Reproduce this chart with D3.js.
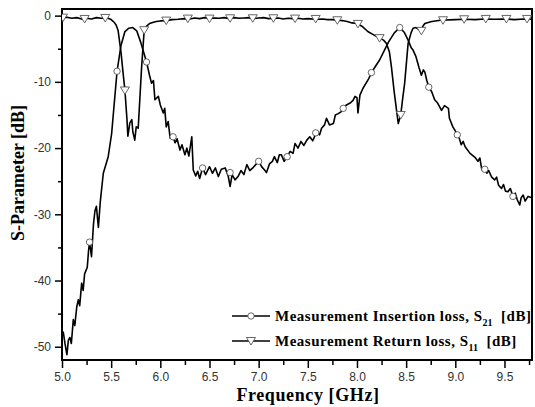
<!DOCTYPE html>
<html>
<head>
<meta charset="utf-8">
<script src="https://cdn.jsdelivr.net/npm/d3@7"></script>
<style>
  body { margin: 0; background: #fff; }
  svg { display: block; }
</style>
</head>
<body>
<script>
// S21 (insertion loss) trace, [GHz, dB]
const s21 = [[5.00,-48.4],[5.013,-47.8],[5.03,-49.5],[5.05,-51.2],[5.065,-49.0],[5.08,-48.6],[5.095,-49.5],[5.115,-45.9],[5.13,-46.8],[5.15,-44.0],[5.166,-42.9],[5.18,-43.8],[5.2,-40.4],[5.215,-41.5],[5.23,-39.0],[5.257,-38.0],[5.27,-35.5],[5.28,-34.2],[5.30,-36.4],[5.32,-31.5],[5.335,-29.5],[5.35,-28.8],[5.37,-32.0],[5.39,-28.0],[5.42,-23.8],[5.47,-21.3],[5.505,-17.8],[5.53,-13.5],[5.56,-8.4],[5.6,-4.5],[5.64,-2.4],[5.68,-1.9],[5.72,-1.8],[5.76,-2.3],[5.8,-4.0],[5.86,-7.0],[5.89,-9.0],[5.91,-10.2],[5.93,-9.8],[5.945,-12.7],[5.98,-12.2],[6.0,-13.5],[6.03,-14.7],[6.045,-14.0],[6.06,-16.8],[6.08,-16.0],[6.1,-18.5],[6.13,-18.3],[6.15,-19.2],[6.17,-18.6],[6.2,-20.3],[6.22,-19.5],[6.25,-21.0],[6.27,-20.0],[6.29,-21.2],[6.32,-18.3],[6.335,-23.3],[6.36,-24.2],[6.38,-23.5],[6.40,-24.6],[6.43,-23.0],[6.46,-24.0],[6.50,-22.8],[6.53,-23.8],[6.56,-23.0],[6.59,-24.3],[6.62,-23.2],[6.66,-23.0],[6.69,-24.2],[6.71,-25.8],[6.73,-24.0],[6.76,-24.8],[6.79,-24.3],[6.82,-23.4],[6.85,-24.0],[6.88,-22.5],[6.91,-23.4],[6.94,-23.0],[6.97,-22.5],[7.0,-22.0],[7.03,-22.8],[7.06,-23.3],[7.08,-23.7],[7.11,-22.4],[7.14,-22.0],[7.16,-21.3],[7.19,-22.2],[7.21,-21.0],[7.23,-21.0],[7.26,-22.0],[7.29,-21.3],[7.32,-20.5],[7.35,-20.8],[7.37,-19.3],[7.40,-20.0],[7.43,-19.0],[7.46,-19.6],[7.49,-18.8],[7.52,-18.3],[7.55,-18.9],[7.59,-17.6],[7.62,-18.0],[7.64,-17.0],[7.67,-16.5],[7.69,-15.5],[7.72,-16.5],[7.76,-16.3],[7.78,-15.0],[7.81,-14.8],[7.84,-14.5],[7.86,-14.0],[7.88,-13.6],[7.93,-13.2],[7.96,-12.8],[7.98,-12.2],[8.0,-12.4],[8.01,-14.7],[8.03,-12.0],[8.06,-11.0],[8.08,-10.5],[8.12,-9.5],[8.147,-8.6],[8.19,-7.6],[8.23,-6.7],[8.28,-5.2],[8.32,-4.0],[8.38,-2.6],[8.435,-1.8],[8.48,-2.5],[8.52,-3.7],[8.55,-4.8],[8.57,-5.2],[8.6,-6.2],[8.63,-7.8],[8.655,-9.0],[8.675,-8.2],[8.69,-8.5],[8.71,-9.8],[8.73,-10.8],[8.76,-11.5],[8.79,-12.7],[8.82,-13.2],[8.86,-14.3],[8.89,-13.6],[8.93,-14.0],[8.94,-15.5],[8.975,-16.8],[9.0,-17.4],[9.02,-18.0],[9.04,-18.5],[9.06,-19.5],[9.08,-19.0],[9.1,-19.8],[9.15,-20.8],[9.2,-21.4],[9.23,-22.0],[9.25,-21.5],[9.27,-23.3],[9.30,-23.2],[9.32,-23.8],[9.34,-23.4],[9.37,-24.4],[9.4,-24.8],[9.42,-24.4],[9.44,-25.6],[9.47,-26.1],[9.49,-25.5],[9.51,-26.5],[9.535,-26.6],[9.56,-26.1],[9.586,-27.3],[9.61,-26.8],[9.63,-27.8],[9.655,-28.6],[9.67,-27.5],[9.69,-27.1],[9.71,-28.0],[9.74,-27.3],[9.78,-27.5]];

// S11 (return loss) trace
const s11 = [[5.0,-0.3],[5.05,-0.25],[5.1,-0.4],[5.15,-0.3],[5.2,-0.5],[5.25,-0.4],[5.3,-0.5],[5.35,-0.3],[5.4,-0.4],[5.45,-0.3],[5.5,-0.6],[5.53,-1.0],[5.55,-1.4],[5.57,-2.2],[5.6,-5.5],[5.62,-8.5],[5.64,-11.3],[5.66,-15.5],[5.67,-18.2],[5.69,-16.2],[5.71,-15.7],[5.72,-17.5],[5.74,-18.8],[5.755,-16.8],[5.775,-17.0],[5.79,-13.0],[5.81,-7.7],[5.836,-2.2],[5.86,-1.6],[5.89,-1.2],[5.93,-1.0],[5.96,-0.9],[6.0,-0.8],[6.06,-0.75],[6.12,-0.6],[6.18,-0.55],[6.25,-0.45],[6.3,-0.5],[6.35,-0.35],[6.4,-0.45],[6.45,-0.3],[6.5,-0.45],[6.55,-0.35],[6.6,-0.4],[6.65,-0.3],[6.7,-0.45],[6.75,-0.3],[6.8,-0.4],[6.85,-0.35],[6.9,-0.3],[6.95,-0.45],[7.0,-0.35],[7.05,-0.3],[7.1,-0.45],[7.15,-0.4],[7.2,-0.35],[7.25,-0.5],[7.3,-0.4],[7.35,-0.45],[7.4,-0.4],[7.45,-0.5],[7.5,-0.45],[7.55,-0.5],[7.6,-0.55],[7.65,-0.5],[7.7,-0.6],[7.75,-0.6],[7.8,-0.7],[7.85,-0.75],[7.9,-0.9],[7.95,-1.1],[8.0,-1.2],[8.05,-1.6],[8.11,-2.4],[8.17,-2.9],[8.23,-3.4],[8.27,-3.7],[8.30,-4.2],[8.33,-5.5],[8.35,-7.7],[8.38,-11.7],[8.42,-16.3],[8.445,-15.0],[8.465,-12.5],[8.485,-10.2],[8.52,-4.2],[8.55,-2.6],[8.57,-1.9],[8.6,-1.8],[8.63,-2.1],[8.655,-2.3],[8.67,-1.6],[8.69,-1.2],[8.76,-0.9],[8.85,-0.7],[9.0,-0.6],[9.1,-0.55],[9.2,-0.6],[9.3,-0.5],[9.4,-0.55],[9.5,-0.5],[9.6,-0.6],[9.7,-0.5],[9.78,-0.55]];

// symbol positions
const s21Marks = [[5.28,-34.2],[5.56,-8.4],[5.86,-7.0],[6.13,-18.3],[6.43,-23.0],[6.71,-23.7],[7.0,-22.0],[7.29,-21.3],[7.58,-17.7],[7.86,-14.0],[8.147,-8.6],[8.435,-1.8],[8.73,-10.8],[9.02,-18.0],[9.30,-23.2],[9.586,-27.3]];
const s11Marks = [[5.01,-0.3],[5.23,-0.5],[5.44,-0.35],[5.64,-11.3],[5.836,-2.2],[6.06,-0.75],[6.28,-0.45],[6.50,-0.45],[6.71,-0.4],[6.94,-0.4],[7.15,-0.4],[7.37,-0.45],[7.58,-0.5],[7.80,-0.7],[8.01,-1.25],[8.23,-3.4],[8.445,-15.0],[8.655,-2.3],[8.875,-0.7],[9.09,-0.55],[9.31,-0.5],[9.52,-0.5],[9.73,-0.5]];

const xMajor = [5.0,5.5,6.0,6.5,7.0,7.5,8.0,8.5,9.0,9.5];
const xMinor = [5.25,5.75,6.25,6.75,7.25,7.75,8.25,8.75,9.25,9.75];
const yMajor = [0,-10,-20,-30,-40,-50];
const yMinor = [-5,-15,-25,-35,-45];

const legendItems = [
  {name: "Measurement Insertion loss, S", sub: "21", sym: "circle"},
  {name: "Measurement Return loss, S", sub: "11", sym: "triangle"}
];

const W = 535, H = 407;
const margin = {top: 9, right: 3, bottom: 47, left: 62};

const svg = d3.select("body").append("svg")
    .attr("width", W).attr("height", H);

const x = d3.scaleLinear().domain([5.0, 9.78]).range([margin.left, W - margin.right]);
const y = d3.scaleLinear().domain([-52, 1]).range([H - margin.bottom, margin.top]);

svg.append("clipPath").attr("id", "clip")
  .append("rect")
    .attr("x", margin.left).attr("y", margin.top)
    .attr("width", W - margin.left - margin.right)
    .attr("height", H - margin.top - margin.bottom);

// axes
const tickFont = "Arial, 'Liberation Sans', sans-serif";
svg.append("g").attr("transform", `translate(0,${H - margin.bottom})`)
    .call(d3.axisBottom(x).tickValues(xMajor).tickFormat(d3.format(".1f")).tickSize(8).tickPadding(4));
svg.append("g").attr("transform", `translate(0,${H - margin.bottom})`)
    .call(d3.axisBottom(x).tickValues(xMinor).tickFormat("").tickSize(5));
const gy = svg.append("g").attr("transform", `translate(${margin.left},0)`)
    .call(d3.axisLeft(y).tickValues(yMajor).tickFormat(d3.format("d")).tickSize(7).tickPadding(4));
svg.append("g").attr("transform", `translate(${margin.left},0)`)
    .call(d3.axisLeft(y).tickValues(yMinor).tickFormat("").tickSize(4));

svg.selectAll(".domain").remove();
svg.selectAll(".tick line").attr("stroke", "#000").attr("stroke-width", 1.5);
svg.selectAll(".tick text")
    .attr("font-family", tickFont).attr("font-size", 12).attr("fill", "#333");
gy.selectAll(".tick text").text(d => String(d));

// frame
svg.append("rect")
    .attr("x", margin.left).attr("y", margin.top)
    .attr("width", W - margin.left - margin.right)
    .attr("height", H - margin.top - margin.bottom)
    .attr("fill", "none").attr("stroke", "#000").attr("stroke-width", 2);

const line = d3.line().x(d => x(d[0])).y(d => y(d[1]));
const plot = svg.append("g").attr("clip-path", "url(#clip)");

plot.append("path").datum(s21)
    .attr("d", line).attr("fill", "none").attr("stroke", "#000").attr("stroke-width", 1.6)
    .attr("stroke-linejoin", "round");
plot.append("path").datum(s11)
    .attr("d", line).attr("fill", "none").attr("stroke", "#000").attr("stroke-width", 1.6)
    .attr("stroke-linejoin", "round");

const tri = "M-4.5,-3.5L4.5,-3.5L0,4Z";

plot.selectAll(".m21").data(s21Marks).join("circle")
    .attr("cx", d => x(d[0])).attr("cy", d => y(d[1])).attr("r", 3.2)
    .attr("fill", "#fff").attr("stroke", "#555").attr("stroke-width", 0.9);
plot.selectAll(".m11").data(s11Marks).join("path")
    .attr("d", tri)
    .attr("transform", d => `translate(${x(d[0])},${y(d[1])})`)
    .attr("fill", "#fff").attr("stroke", "#555").attr("stroke-width", 0.9);

// axis titles
const titleFont = "'Times New Roman', 'Liberation Serif', serif";
svg.append("text")
    .attr("x", 308).attr("y", 401)
    .attr("text-anchor", "middle")
    .attr("font-family", titleFont).attr("font-weight", "bold").attr("font-size", 18)
    .attr("letter-spacing", 0.6)
    .text("Frequency [GHz]");
svg.append("text")
    .attr("transform", "translate(24,173) rotate(-90)")
    .attr("text-anchor", "middle")
    .attr("font-family", titleFont).attr("font-weight", "bold").attr("font-size", 18)
    .text("S-Parameter [dB]");

// legend
const leg = svg.append("g");
legendItems.forEach((it, i) => {
  const ly = 316 + i * 25;
  leg.append("line").attr("x1", 232).attr("x2", 270).attr("y1", ly).attr("y2", ly)
      .attr("stroke", "#000").attr("stroke-width", 1.6);
  if (it.sym === "circle") {
    leg.append("circle").attr("cx", 251).attr("cy", ly).attr("r", 3.2)
        .attr("fill", "#fff").attr("stroke", "#555").attr("stroke-width", 0.9);
  } else {
    leg.append("path").attr("d", tri).attr("transform", `translate(251,${ly})`)
        .attr("fill", "#fff").attr("stroke", "#555").attr("stroke-width", 0.9);
  }
  const t = leg.append("text").attr("x", 275).attr("y", ly + 5)
      .attr("font-family", titleFont).attr("font-weight", "bold").attr("font-size", 15)
      .attr("letter-spacing", 0.5);
  t.append("tspan").text(it.name);
  t.append("tspan").attr("dy", 5).attr("font-size", 10).attr("letter-spacing", 0).text(it.sub);
  t.append("tspan").attr("dy", -5).text("\u00a0\u00a0[dB]");
});
</script>
</body>
</html>
